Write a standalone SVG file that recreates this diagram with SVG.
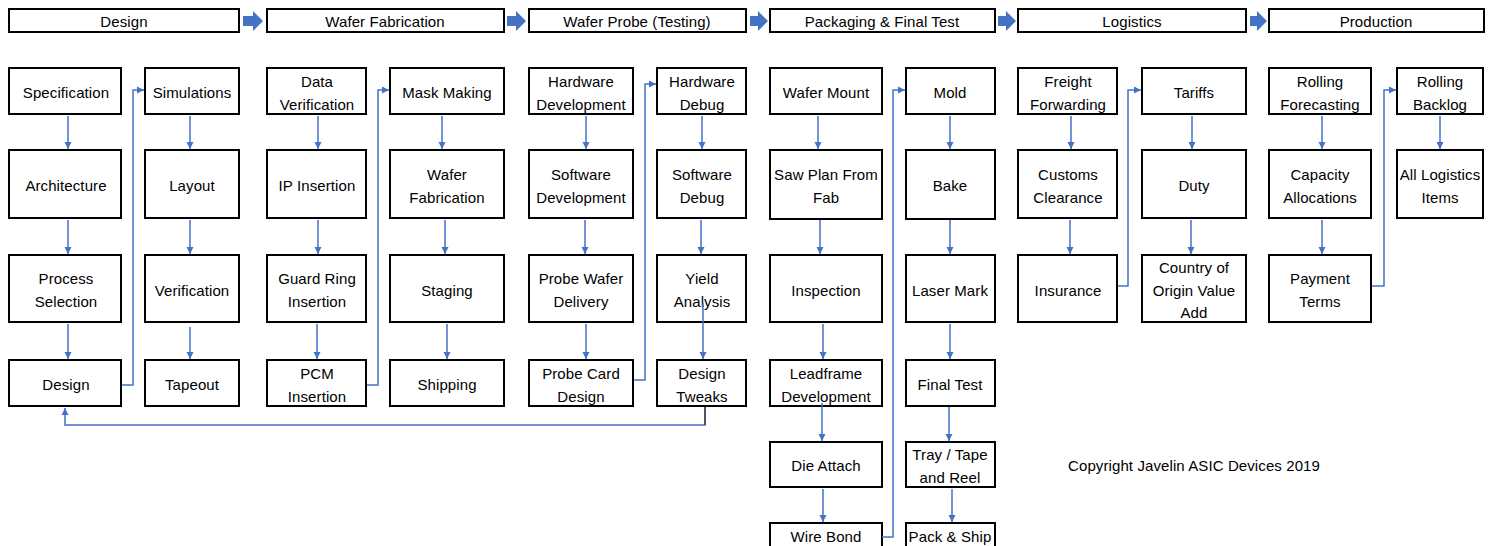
<svg xmlns="http://www.w3.org/2000/svg" width="1496" height="546" viewBox="0 0 1496 546">
<style>
.box{fill:#fff;stroke:#000;stroke-width:2}
.t{font-family:"Liberation Sans",Arial,sans-serif;font-size:15px;text-anchor:middle;fill:#000;letter-spacing:0.1px}
.c{stroke:#4472C4;stroke-width:1.5;fill:none;marker-end:url(#ah)}
.blk{fill:#4472C4}
</style>
<defs>
<marker id="ah" viewBox="0 0 10 10" refX="10" refY="5" markerWidth="7" markerHeight="8" markerUnits="userSpaceOnUse" orient="auto"><path d="M0,0 L10,5 L0,10 z" fill="#4472C4"/></marker>
</defs>
<rect width="1496" height="546" fill="#fff"/>
<!-- Header stages -->
<g id="h-design"><rect class="box" x="9" y="9" width="230" height="23"/><text class="t" x="124" y="27">Design</text></g>
<g id="h-waferfab"><rect class="box" x="267" y="9" width="237" height="23"/><text class="t" x="385" y="27">Wafer Fabrication</text></g>
<g id="h-probe"><rect class="box" x="529" y="9" width="217" height="23"/><text class="t" x="637" y="27">Wafer Probe (Testing)</text></g>
<g id="h-packaging"><rect class="box" x="770" y="9" width="225" height="23"/><text class="t" x="882" y="27">Packaging &amp; Final Test</text></g>
<g id="h-logistics"><rect class="box" x="1018" y="9" width="228" height="23"/><text class="t" x="1132" y="27">Logistics</text></g>
<g id="h-production"><rect class="box" x="1269" y="9" width="215" height="23"/><text class="t" x="1376" y="27">Production</text></g>
<g id="stage-arrows">
<polygon class="blk" points="243,16 253,16 253,11 263,21 253,31 253,26 243,26"/>
<polygon class="blk" points="507,16 516,16 516,11 526,21 516,31 516,26 507,26"/>
<polygon class="blk" points="750,16 758,16 758,11 768,21 758,31 758,26 750,26"/>
<polygon class="blk" points="998,16 1006,16 1006,11 1016,21 1006,31 1006,26 998,26"/>
<polygon class="blk" points="1250,16 1257,16 1257,11 1267,21 1257,31 1257,26 1250,26"/>
</g>
<!-- Column 1 -->
<g id="n-specification"><rect class="box" x="9" y="68" width="112" height="46"/><text class="t" x="66" y="98">Specification</text></g>
<g id="n-architecture"><rect class="box" x="9" y="150" width="112" height="68"/><text class="t" x="66" y="191">Architecture</text></g>
<g id="n-process"><rect class="box" x="9" y="255" width="112" height="67"/><text class="t" x="66" y="284">Process</text><text class="t" x="66" y="307">Selection</text></g>
<g id="n-design"><rect class="box" x="9" y="360" width="112" height="46"/><text class="t" x="66" y="390">Design</text></g>
<!-- Column 2 -->
<g id="n-simulations"><rect class="box" x="145" y="68" width="94" height="46"/><text class="t" x="192" y="98">Simulations</text></g>
<g id="n-layout"><rect class="box" x="145" y="150" width="94" height="68"/><text class="t" x="192" y="191">Layout</text></g>
<g id="n-verification"><rect class="box" x="145" y="255" width="94" height="67"/><text class="t" x="192" y="296">Verification</text></g>
<g id="n-tapeout"><rect class="box" x="145" y="360" width="94" height="46"/><text class="t" x="192" y="390">Tapeout</text></g>
<!-- Column 3 -->
<g id="n-dataverif"><rect class="box" x="267" y="68" width="99" height="46"/><text class="t" x="317" y="86.5">Data</text><text class="t" x="317" y="109.5">Verification</text></g>
<g id="n-ipins"><rect class="box" x="267" y="150" width="99" height="68"/><text class="t" x="317" y="191">IP Insertion</text></g>
<g id="n-guardring"><rect class="box" x="267" y="255" width="99" height="67"/><text class="t" x="317" y="284">Guard Ring</text><text class="t" x="317" y="307">Insertion</text></g>
<g id="n-pcm"><rect class="box" x="267" y="360" width="99" height="46"/><text class="t" x="317" y="378.5">PCM</text><text class="t" x="317" y="401.5">Insertion</text></g>
<!-- Column 4 -->
<g id="n-mask"><rect class="box" x="390" y="68" width="114" height="46"/><text class="t" x="447" y="98">Mask Making</text></g>
<g id="n-waferfab"><rect class="box" x="390" y="150" width="114" height="68"/><text class="t" x="447" y="179.5">Wafer</text><text class="t" x="447" y="202.5">Fabrication</text></g>
<g id="n-staging"><rect class="box" x="390" y="255" width="114" height="67"/><text class="t" x="447" y="296">Staging</text></g>
<g id="n-shipping"><rect class="box" x="390" y="360" width="114" height="46"/><text class="t" x="447" y="390">Shipping</text></g>
<!-- Column 5 -->
<g id="n-hwdev"><rect class="box" x="529" y="68" width="104" height="46"/><text class="t" x="581" y="86.5">Hardware</text><text class="t" x="581" y="109.5">Development</text></g>
<g id="n-swdev"><rect class="box" x="529" y="150" width="104" height="68"/><text class="t" x="581" y="179.5">Software</text><text class="t" x="581" y="202.5">Development</text></g>
<g id="n-probewafer"><rect class="box" x="529" y="255" width="104" height="67"/><text class="t" x="581" y="284">Probe Wafer</text><text class="t" x="581" y="307">Delivery</text></g>
<g id="n-probecard"><rect class="box" x="529" y="360" width="104" height="46"/><text class="t" x="581" y="378.5">Probe Card</text><text class="t" x="581" y="401.5">Design</text></g>
<!-- Column 6 -->
<g id="n-hwdebug"><rect class="box" x="657" y="68" width="89" height="46"/><text class="t" x="702" y="86.5">Hardware</text><text class="t" x="702" y="109.5">Debug</text></g>
<g id="n-swdebug"><rect class="box" x="657" y="150" width="89" height="68"/><text class="t" x="702" y="179.5">Software</text><text class="t" x="702" y="202.5">Debug</text></g>
<g id="n-yield"><rect class="box" x="657" y="255" width="89" height="67"/><text class="t" x="702" y="284">Yield</text><text class="t" x="702" y="307">Analysis</text></g>
<g id="n-tweaks"><rect class="box" x="657" y="360" width="89" height="46"/><text class="t" x="702" y="378.5">Design</text><text class="t" x="702" y="401.5">Tweaks</text></g>
<!-- Column 7 -->
<g id="n-wafermount"><rect class="box" x="770" y="68" width="112" height="46"/><text class="t" x="826" y="98">Wafer Mount</text></g>
<g id="n-sawplan"><rect class="box" x="770" y="150" width="112" height="69"/><text class="t" x="826" y="179.5">Saw Plan From</text><text class="t" x="826" y="202.5">Fab</text></g>
<g id="n-inspection"><rect class="box" x="770" y="255" width="112" height="67"/><text class="t" x="826" y="296">Inspection</text></g>
<g id="n-leadframe"><rect class="box" x="770" y="360" width="112" height="46"/><text class="t" x="826" y="378.5">Leadframe</text><text class="t" x="826" y="401.5">Development</text></g>
<g id="n-dieattach"><rect class="box" x="770" y="442" width="112" height="45"/><text class="t" x="826" y="471">Die Attach</text></g>
<g id="n-wirebond"><rect class="box" x="770" y="523" width="112" height="46"/><text class="t" x="826" y="542">Wire Bond</text></g>
<!-- Column 8 -->
<g id="n-mold"><rect class="box" x="906" y="68" width="89" height="46"/><text class="t" x="950" y="98">Mold</text></g>
<g id="n-bake"><rect class="box" x="906" y="150" width="89" height="69"/><text class="t" x="950" y="191">Bake</text></g>
<g id="n-lasermark"><rect class="box" x="906" y="255" width="89" height="67"/><text class="t" x="950" y="296">Laser Mark</text></g>
<g id="n-finaltest"><rect class="box" x="906" y="360" width="89" height="46"/><text class="t" x="950" y="390">Final Test</text></g>
<g id="n-tray"><rect class="box" x="906" y="442" width="89" height="45"/><text class="t" x="950" y="460">Tray / Tape</text><text class="t" x="950" y="483">and Reel</text></g>
<g id="n-packship"><rect class="box" x="906" y="523" width="89" height="46"/><text class="t" x="950" y="542">Pack &amp; Ship</text></g>
<!-- Column 9 -->
<g id="n-freight"><rect class="box" x="1018" y="68" width="99" height="46"/><text class="t" x="1068" y="86.5">Freight</text><text class="t" x="1068" y="109.5">Forwarding</text></g>
<g id="n-customs"><rect class="box" x="1018" y="150" width="99" height="68"/><text class="t" x="1068" y="179.5">Customs</text><text class="t" x="1068" y="202.5">Clearance</text></g>
<g id="n-insurance"><rect class="box" x="1018" y="255" width="99" height="67"/><text class="t" x="1068" y="296">Insurance</text></g>
<!-- Column 10 -->
<g id="n-tariffs"><rect class="box" x="1142" y="68" width="104" height="46"/><text class="t" x="1194" y="98">Tariffs</text></g>
<g id="n-duty"><rect class="box" x="1142" y="150" width="104" height="68"/><text class="t" x="1194" y="191">Duty</text></g>
<g id="n-origin"><rect class="box" x="1142" y="255" width="104" height="67"/><text class="t" x="1194" y="273">Country of</text><text class="t" x="1194" y="296">Origin Value</text><text class="t" x="1194" y="318">Add</text></g>
<!-- Column 11 -->
<g id="n-forecast"><rect class="box" x="1269" y="68" width="102" height="46"/><text class="t" x="1320" y="86.5">Rolling</text><text class="t" x="1320" y="109.5">Forecasting</text></g>
<g id="n-capacity"><rect class="box" x="1269" y="150" width="102" height="68"/><text class="t" x="1320" y="179.5">Capacity</text><text class="t" x="1320" y="202.5">Allocations</text></g>
<g id="n-payment"><rect class="box" x="1269" y="255" width="102" height="67"/><text class="t" x="1320" y="284">Payment</text><text class="t" x="1320" y="307">Terms</text></g>
<!-- Column 12 -->
<g id="n-backlog"><rect class="box" x="1397" y="68" width="86" height="46"/><text class="t" x="1440" y="86.5">Rolling</text><text class="t" x="1440" y="109.5">Backlog</text></g>
<g id="n-alllogistics"><rect class="box" x="1397" y="150" width="86" height="68"/><text class="t" x="1440" y="179.5">All Logistics</text><text class="t" x="1440" y="202.5">Items</text></g>
<!-- Connectors -->
<g id="connectors">
<path class="c" d="M68,116 V149"/><path class="c" d="M68,220 V254"/><path class="c" d="M68,324 V359"/>
<path class="c" d="M190,116 V149"/><path class="c" d="M190,220 V254"/><path class="c" d="M190,327 V359"/>
<path class="c" d="M318,116 V149"/><path class="c" d="M318,220 V254"/><path class="c" d="M317,324 V359"/>
<path class="c" d="M442,116 V149"/><path class="c" d="M445,220 V254"/><path class="c" d="M447,324 V359"/>
<path class="c" d="M586,116 V149"/><path class="c" d="M585,220 V254"/><path class="c" d="M586,324 V359"/>
<path class="c" d="M702,116 V149"/><path class="c" d="M701,220 V254"/><path class="c" d="M703,303 V359"/>
<path class="c" d="M818,116 V149"/><path class="c" d="M820,220 V254"/><path class="c" d="M823,324 V359"/><path class="c" d="M822,403 V441"/><path class="c" d="M823,489 V522"/>
<path class="c" d="M950,116 V149"/><path class="c" d="M950,220 V254"/><path class="c" d="M950,324 V359"/><path class="c" d="M949,407 V441"/><path class="c" d="M952,489 V522"/>
<path class="c" d="M1071,116 V149"/><path class="c" d="M1070,220 V254"/>
<path class="c" d="M1192,116 V149"/><path class="c" d="M1191,220 V254"/>
<path class="c" d="M1322,116 V149"/><path class="c" d="M1322,220 V254"/>
<path class="c" d="M1440,116 V149"/>
<path class="c" d="M122,385 H133 V90 H144"/>
<path class="c" d="M367,385 H378 V90 H389"/>
<path class="c" d="M634,380 H645 V84 H656"/>
<path class="c" d="M882,537 H893 V90 H905"/>
<path class="c" d="M1118,286 H1128 V90 H1141"/>
<path class="c" d="M1372,286 H1384 V90 H1396"/>
<path class="c" d="M705,407 V425 H65 V408"/>
<path d="M705,407 V425" stroke="#404040" stroke-width="1.5" fill="none"/>
</g>
<text class="t" x="1194" y="471">Copyright Javelin ASIC Devices 2019</text>
</svg>
